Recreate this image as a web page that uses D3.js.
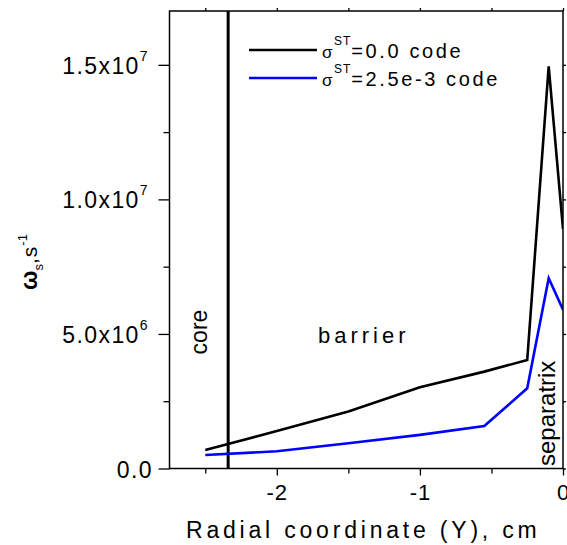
<!DOCTYPE html>
<html>
<head>
<meta charset="utf-8">
<style>
    body { margin: 0; background: #fff; }
    text { font-family: "Liberation Sans", Arial, sans-serif; fill: #000; }
</style>
<script src="https://cdn.jsdelivr.net/npm/d3@7"></script>
</head>
<body>
<svg id="chart" width="567" height="545"></svg>
<script>
// data
let radial = [-2.5, -2, -1.5, -1, -0.55, -0.25, -0.1, 0]
let omegaNoST = [0.69e6, 1.39e6, 2.12e6, 3.02e6, 3.6e6, 4.03e6, 14.94e6, 8.9e6]
let omegaST = [0.5e6, 0.64e6, 0.94e6, 1.25e6, 1.58e6, 2.98e6, 7.07e6, 5.9e6]
let coreEdge = -2.34
let xTicks = [-2, -1, 0]
let xMinor = [-2.5, -1.5, -0.5]
let yTicks = [0, 5e6, 1e7, 1.5e7]
let yMinor = [2.5e6, 7.5e6, 1.25e7]
let yTickMant = ["0.0", "5.0x10", "1.0x10", "1.5x10"]
let yTickExp = ["", "6", "7", "7"]
let seriesNames = ["=0.0 code", "=2.5e-3 code"]
let seriesColors = ["#000", "#0000ff"]

let svg = d3.select("#chart")
let pLeft = 169.5, pRight = 563, pTop = 11, pBottom = 468.5

let x = d3.scaleLinear().domain([-2.75, 0]).range([pLeft, pRight])
let y = d3.scaleLinear().domain([0, 1.7e7]).range([pBottom, pTop])

let defs = svg.append("defs")
defs.append("clipPath").attr("id", "clip")
    .append("rect").attr("x", pLeft).attr("y", pTop)
    .attr("width", pRight - pLeft).attr("height", pBottom - pTop)

let plot = svg.append("g").attr("clip-path", "url(#clip)")

// core boundary
plot.append("line")
    .attr("x1", x(coreEdge)).attr("x2", x(coreEdge))
    .attr("y1", pTop).attr("y2", pBottom)
    .attr("stroke", "#000").attr("stroke-width", 3)

let line = d3.line().x((d, i) => x(radial[i])).y(d => y(d))
;[omegaNoST, omegaST].forEach((s, k) => {
    plot.append("path")
        .attr("d", line(s))
        .attr("fill", "none")
        .attr("stroke", seriesColors[k])
        .attr("stroke-width", 2.6)
        .attr("stroke-linejoin", "miter")
})

// axes
let xAxis = d3.axisBottom(x).tickValues(xTicks).tickSize(7)
    .tickFormat(d => d === 0 ? "0" : String(d))
let gx = svg.append("g").attr("transform", `translate(0,${pBottom})`).call(xAxis)
gx.selectAll("text").style("font-size", "22px").attr("letter-spacing", "1px")
    .attr("y", 31.5).attr("dy", null)
svg.append("g").attr("transform", `translate(0,${pBottom})`)
    .call(d3.axisBottom(x).tickValues(xMinor).tickSize(5).tickFormat(""))

let yAxis = d3.axisLeft(y).tickValues(yTicks).tickSize(11).tickFormat("")
svg.append("g").attr("transform", `translate(${pLeft},0)`).call(yAxis)
svg.append("g").attr("transform", `translate(${pLeft},0)`)
    .call(d3.axisLeft(y).tickValues(yMinor).tickSize(6).tickFormat(""))

// mirrored small ticks on top and right
svg.append("g").attr("transform", `translate(0,${pTop})`)
    .call(d3.axisTop(x).tickValues(xTicks.concat(xMinor)).tickSize(3).tickFormat(""))
svg.append("g").attr("transform", `translate(${pRight},0)`)
    .call(d3.axisRight(y).tickValues(yTicks.concat(yMinor)).tickSize(3).tickFormat(""))

svg.selectAll(".domain").remove()
svg.selectAll(".tick line").attr("stroke", "#000").attr("stroke-width", 1.3)

// frame
svg.append("rect")
    .attr("x", pLeft).attr("y", pTop)
    .attr("width", pRight - pLeft).attr("height", pBottom - pTop)
    .attr("fill", "none").attr("stroke", "#000").attr("stroke-width", 1.5)

// y tick labels with powers of ten
yTicks.forEach((v, i) => {
    let t = svg.append("text")
        .attr("x", yTickExp[i] ? 149 : 153).attr("y", y(v) + 9)
        .attr("text-anchor", "end")
        .style("font-size", "23px")
        .attr("letter-spacing", "1.4px")
    t.append("tspan").text(yTickMant[i])
    if (yTickExp[i]) {
        t.append("tspan").attr("dy", -13).style("font-size", "14px").text(yTickExp[i])
    }
})

// axis titles
svg.append("text")
    .attr("x", (pLeft + pRight) / 2 - 3).attr("y", 538)
    .attr("text-anchor", "middle")
    .style("font-size", "23px")
    .attr("letter-spacing", "3.8px")
    .text("Radial coordinate (Y), cm")

let yt = svg.append("text")
    .attr("transform", "translate(37,262) rotate(-90)")
    .attr("text-anchor", "middle")
    .style("font-size", "21px")
yt.append("tspan").style("font-weight", "bold").style("font-size", "23px").text("ω")
yt.append("tspan").attr("dy", 6).style("font-size", "13px").text("s")
yt.append("tspan").attr("dy", -6).attr("letter-spacing", "1px").text(",s")
yt.append("tspan").attr("dy", -10).style("font-size", "13px").text("-1")

// region labels
svg.append("text")
    .attr("transform", `translate(207,332) rotate(-90)`)
    .attr("text-anchor", "middle")
    .style("font-size", "23px")
    .text("core")
svg.append("text")
    .attr("x", 318).attr("y", 342.5)
    .style("font-size", "22px")
    .attr("letter-spacing", "4px")
    .text("barrier")
svg.append("text")
    .attr("transform", `translate(555,466) rotate(-90)`)
    .style("font-size", "24px")
    .text("separatrix")

// legend
let legend = svg.append("g")
seriesNames.forEach((name, i) => {
    let ly = 50 + i * 28
    legend.append("line")
        .attr("x1", 249).attr("x2", 317).attr("y1", ly).attr("y2", ly)
        .attr("stroke", seriesColors[i]).attr("stroke-width", 2.6)
    let t = legend.append("text")
        .attr("x", 322).attr("y", ly + 7.5)
        .style("font-size", "20px")
        .attr("letter-spacing", "2.6px")
    t.append("tspan").style("font-size", "17px").attr("letter-spacing", "1.5px").text("σ")
    t.append("tspan").attr("dy", -13).style("font-size", "12px").attr("letter-spacing", "1px").text("ST")
    t.append("tspan").attr("dy", 13).text(name)
})
</script>
</body>
</html>
